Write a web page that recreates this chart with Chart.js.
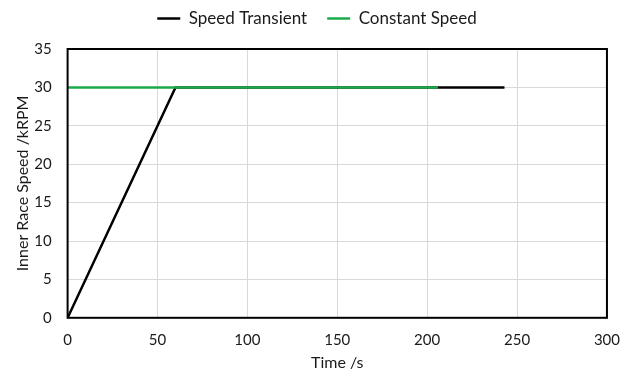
<!DOCTYPE html>
<html>
<head>
<meta charset="utf-8">
<script src="https://cdn.jsdelivr.net/npm/chart.js@4/dist/chart.umd.min.js"></script>
<style>
  html, body { margin: 0; padding: 0; background: #fff; }
  #wrap { width: 633px; height: 375px; }
</style>
</head>
<body>
<div id="wrap"><canvas id="chart" width="633" height="375"></canvas></div>
<script>
// Speed Transient: ramp up then hold
const transientTime = [0, 60, 243];
const transientSpeed = [0, 30, 30];

// Constant Speed
const constantTime = [0, 206];
const constantSpeed = [30, 30];

const xTicks = [0, 50, 100, 150, 200, 250, 300];
const yTicks = [0, 5, 10, 15, 20, 25, 30, 35];

const toPoints = (xs, ys) => xs.map((x, i) => ({ x: x, y: ys[i] }));

const fontFamily = 'Lato, "Open Sans", sans-serif';
const textColor = '#1a1a1a';

// Draw the plot frame on top of grid lines
const framePlugin = {
    id: 'frame',
    afterDatasetsDraw(chart) {
        const { ctx, chartArea } = chart;
        ctx.save();
        ctx.strokeStyle = '#000';
        ctx.lineWidth = 2;
        ctx.strokeRect(chartArea.left, chartArea.top,
            chartArea.right - chartArea.left, chartArea.bottom - chartArea.top);
        ctx.restore();
    }
};

// Leave a fixed gap below the legend
const legendGapPlugin = {
    id: 'legendGap',
    beforeInit(chart) {
        const origFit = chart.legend.fit;
        chart.legend.fit = function () {
            origFit.bind(chart.legend)();
            this.height = 59;
        };
    }
};

new Chart(document.getElementById('chart'), {
    type: 'scatter',
    data: {
        datasets: [{
            label: 'Speed Transient',
            data: toPoints(transientTime, transientSpeed),
            showLine: true,
            borderColor: '#000',
            backgroundColor: '#000',
            borderWidth: 2.5,
            pointRadius: 0,
            order: 1
        }, {
            label: 'Constant Speed',
            data: toPoints(constantTime, constantSpeed),
            showLine: true,
            borderColor: '#1aaa4a',
            backgroundColor: '#1aaa4a',
            borderWidth: 2.5,
            pointRadius: 0,
            order: 0
        }]
    },
    options: {
        responsive: false,
        animation: false,
        layout: { padding: { left: 13, right: 12, top: -10, bottom: 3 } },
        plugins: {
            tooltip: { enabled: false },
            legend: {
                position: 'top',
                labels: {
                    usePointStyle: true,
                    pointStyle: 'line',
                    pointStyleWidth: 23,
                    boxHeight: 2,
                    padding: 20,
                    color: textColor,
                    font: { family: fontFamily, size: 17 },
                    sort: (a, b) => a.datasetIndex - b.datasetIndex
                }
            }
        },
        scales: {
            x: {
                type: 'linear',
                min: 0,
                max: 300,
                afterBuildTicks: axis => { axis.ticks = xTicks.map(v => ({ value: v })); },
                grid: { color: '#d9d9d9', lineWidth: 1, drawTicks: false },
                border: { display: false },
                ticks: { color: textColor, padding: 13, font: { family: fontFamily, size: 15 } },
                title: {
                    display: true,
                    text: 'Time /s',
                    color: textColor,
                    font: { family: fontFamily, size: 16 },
                    padding: { top: -9, bottom: 0 }
                }
            },
            y: {
                min: 0,
                max: 35,
                afterBuildTicks: axis => { axis.ticks = yTicks.map(v => ({ value: v })); },
                grid: { color: '#d9d9d9', lineWidth: 1, drawTicks: false },
                border: { display: false },
                ticks: { color: textColor, padding: 16, font: { family: fontFamily, size: 15 } },
                title: {
                    display: true,
                    text: 'Inner Race Speed /kRPM',
                    color: textColor,
                    font: { family: fontFamily, size: 16 },
                    padding: { top: 0, bottom: -14 }
                }
            }
        }
    },
    plugins: [framePlugin, legendGapPlugin]
});
</script>
</body>
</html>
